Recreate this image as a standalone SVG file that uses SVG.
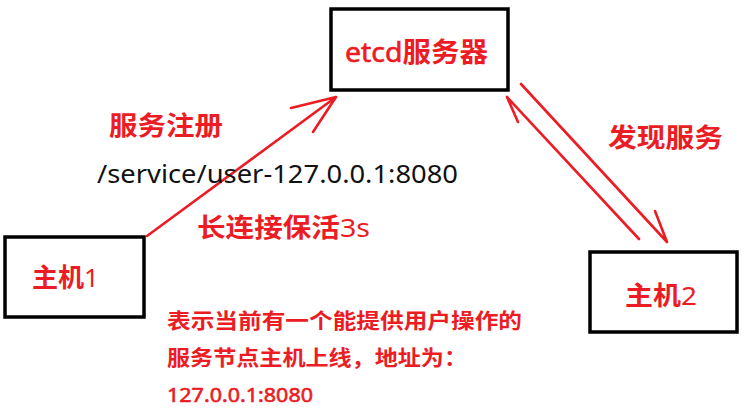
<svg xmlns="http://www.w3.org/2000/svg" width="748" height="410" viewBox="0 0 748 410">
<style>
.box{fill:#fff;stroke:#000;stroke-width:3.5}
.red{fill:#ec1c24;font-family:"Noto Sans CJK SC","Noto Sans",sans-serif;font-weight:bold}
.lat{font-family:"Noto Sans","Open Sans",sans-serif;font-weight:normal}
.thick{stroke:#ec1c24;stroke-width:0.6}
.blk{fill:#111;font-family:"Noto Sans","Open Sans",sans-serif}
.con{fill:none;stroke:#ec1c24;stroke-width:2.6;stroke-linecap:round;stroke-linejoin:round}
</style>
<rect width="748" height="410" fill="#fff"/>
<g id="etcd">
<rect class="box" x="331" y="9" width="177" height="81"/>
<text class="red" x="345" y="62" font-size="27" textLength="143" lengthAdjust="spacingAndGlyphs"><tspan class="lat thick">etcd</tspan>服务器</text>
</g>
<g id="host1">
<rect class="box" x="5" y="237" width="139" height="80"/>
<text class="red" x="32" y="287" font-size="26" textLength="67" lengthAdjust="spacingAndGlyphs">主机<tspan class="lat">1</tspan></text>
</g>
<g id="host2">
<rect class="box" x="590" y="252" width="147" height="80"/>
<text class="red" x="625" y="305" font-size="26" textLength="72" lengthAdjust="spacingAndGlyphs">主机<tspan class="lat">2</tspan></text>
</g>
<g id="connectors">
<path class="con" d="M147,236 L336,97 M291,108 L336,97 L313,132"/>
<path class="con" d="M521,84 L667,242 M655,211 L667,242"/>
<path class="con" d="M639,239 L507,97 M518,122 L507,97"/>
</g>
<g id="labels">
<text class="red" x="109" y="135" font-size="26" textLength="114" lengthAdjust="spacingAndGlyphs">服务注册</text>
<text class="blk" x="97" y="183" font-size="25" textLength="361" lengthAdjust="spacingAndGlyphs">/service/user-127.0.0.1:8080</text>
<text class="red" x="197" y="237" font-size="26" textLength="173" lengthAdjust="spacingAndGlyphs">长连接保活<tspan class="lat">3s</tspan></text>
<text class="red" x="608" y="147" font-size="26" textLength="115" lengthAdjust="spacingAndGlyphs">发现服务</text>
<text class="red" x="167" y="328" font-size="21" textLength="355" lengthAdjust="spacingAndGlyphs">表示当前有一个能提供用户操作的</text>
<text class="red" x="167" y="365" font-size="21" textLength="300" lengthAdjust="spacingAndGlyphs">服务节点主机上线，地址为：</text>
<text class="red lat thick" x="167" y="402" font-size="20" textLength="146" lengthAdjust="spacingAndGlyphs" stroke-width="0.3">127.0.0.1:8080</text>
</g>
</svg>
